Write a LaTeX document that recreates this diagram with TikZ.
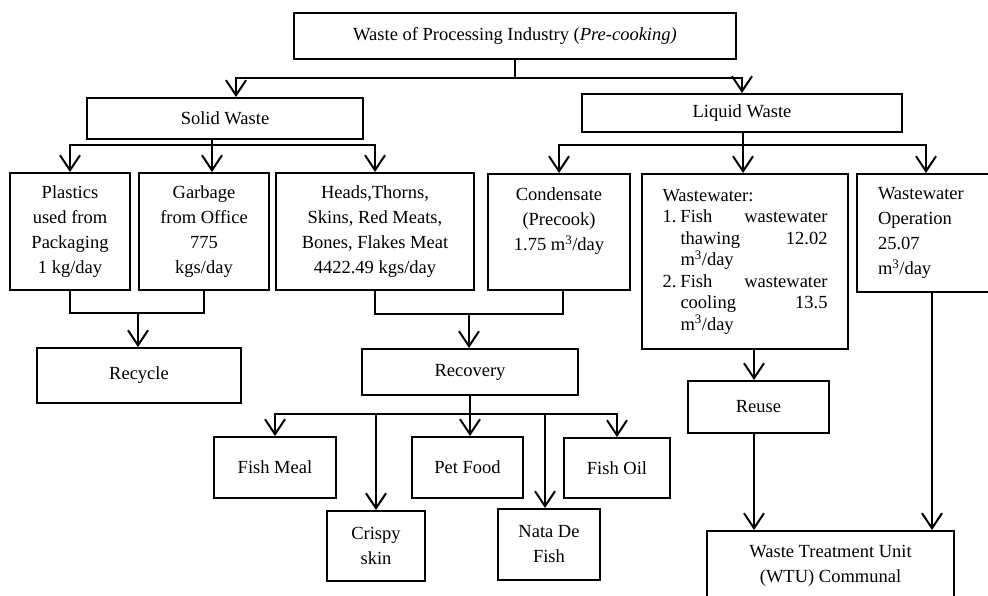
\documentclass[tikz,border=0pt]{standalone}
\usepackage{fontspec}
\setmainfont{Liberation Serif}
\usetikzlibrary{shapes,arrows.meta}
\begin{document}
\begin{tikzpicture}[x=1pt, y=-1pt, block/.style = {rectangle, draw, line width=2pt, inner sep=0pt, align=center, anchor=north west}, line/.style = {draw, line width=2pt, -{Straight Barb[length=15pt,width=20pt]}}, link/.style = {draw, line width=2pt}, font=\fontsize{18.5}{25}\selectfont]
					\useasboundingbox (0,0) rectangle (988,595);
					\node[block, minimum width=442pt, minimum height=46pt] (industry) at (293,12) {Waste of Processing Industry (\textit{Pre-cooking)}};
					\node[block, minimum width=276pt, minimum height=41pt] (solid) at (86,97) {Solid Waste};
					\node[block, minimum width=320pt, minimum height=38pt] (liquid) at (581,93) {Liquid Waste};
					\node[block, minimum width=120pt, minimum height=117pt] (plastics) at (9,172) {Plastics\\used from\\Packaging\\1 kg/day};
					\node[block, minimum width=130pt, minimum height=117pt] (garbage) at (138,172) {Garbage\\from Office\\775\\kgs/day};
					\node[block, minimum width=198pt, minimum height=117pt] (heads) at (275,172) {Heads,Thorns,\\Skins, Red Meats,\\Bones, Flakes Meat\\4422.49 kgs/day};
					\node[block, minimum width=142pt, minimum height=116pt] (condensate) at (487,173) {Condensate\\(Precook)\\1.75 m\textsuperscript{3}/day\\\mbox{}};
					\node[block, minimum width=206pt, minimum height=175pt, align=left, text width=165pt, font=\fontsize{18.5}{21.5}\selectfont] (wastewater) at (641,173) {Wastewater:\\\makebox[18pt][l]{1.}Fish\hfill wastewater\\\hspace*{18pt}thawing\hfill 12.02\\\hspace*{18pt}m\textsuperscript{3}/day\\\makebox[18pt][l]{2.}Fish\hfill wastewater\\\hspace*{18pt}cooling\hfill 13.5\\\hspace*{18pt}m\textsuperscript{3}/day};
					\node[block, minimum width=138pt, minimum height=118pt, align=left, text width=96pt] (operation) at (856,173) {Wastewater\\Operation\\25.07\\m\textsuperscript{3}/day};
					\node[block, minimum width=204pt, minimum height=55pt] (recycle) at (36,347) {Recycle};
					\node[block, minimum width=216pt, minimum height=46pt] (recovery) at (361,348) {Recovery};
					\node[block, minimum width=122pt, minimum height=61pt] (fishmeal) at (213,436) {Fish Meal};
					\node[block, minimum width=98pt, minimum height=70pt] (crispy) at (326,510) {Crispy\\skin};
					\node[block, minimum width=111pt, minimum height=61pt] (petfood) at (411,436) {Pet Food};
					\node[block, minimum width=102pt, minimum height=71pt] (natadefish) at (497,508) {Nata De\\Fish};
					\node[block, minimum width=106pt, minimum height=60pt] (fishoil) at (563,437) {Fish Oil};
					\node[block, minimum width=141pt, minimum height=52pt] (reuse) at (687,380) {Reuse};
					\node[block, minimum width=247pt, minimum height=69pt] (wtu) at (706,530) {Waste Treatment Unit\\(WTU) Communal};

					\coordinate (topsplit) at ([yshift=-18pt]industry.south);
					\coordinate (solidsplit) at (212,145);
					\coordinate (liquidsplit) at (743,145);
					\coordinate (recyclejoin) at (138,313);
					\coordinate (recoveryjoin) at (469,314);
					\coordinate (recoverysplit) at ([yshift=-18pt]recovery.south);

					\path[link] (industry.south) -- (topsplit);
					\path[line] (topsplit) -| ([xshift=11pt]solid.north);
					\path[line] (topsplit) -| (liquid.north);
					\path[line] (solid.south -| solidsplit) -- (solidsplit |- garbage.north);
					\path[line] (solidsplit) -| (plastics.north);
					\path[line] (solidsplit) -| (heads.north);
					\path[line] (liquid.south -| liquidsplit) -- (liquidsplit |- wastewater.north);
					\path[line] (liquidsplit) -| (condensate.north);
					\path[line] (liquidsplit) -| (operation.north);
					\path[link] (plastics.south) |- (recyclejoin) -| (garbage.south);
					\path[line] (recyclejoin) -- (recyclejoin |- recycle.north);
					\path[link] (heads.south) |- (recoveryjoin) -| ([xshift=4pt]condensate.south);
					\path[line] (recoveryjoin) -- (recoveryjoin |- recovery.north);
					\path[line] (recovery.south) -- (recoverysplit |- petfood.north);
					\path[line] (recoverysplit) -| (fishmeal.north);
					\path[line] (recoverysplit) -| (crispy.north);
					\path[line] (recoverysplit) -| ([xshift=-4pt]natadefish.north);
					\path[line] (recoverysplit) -| (fishoil.north);
					\path[line] ([xshift=-4.5pt]reuse.north |- wastewater.south) -- ([xshift=-4.5pt]reuse.north);
					\path[line] ([xshift=-4.5pt]reuse.south) -- ([xshift=-4.5pt]reuse.south |- wtu.north);
					\path[line] ([xshift=6pt]operation.south) -- ([xshift=6pt]operation.south |- wtu.north);
				\end{tikzpicture}
\end{document}
